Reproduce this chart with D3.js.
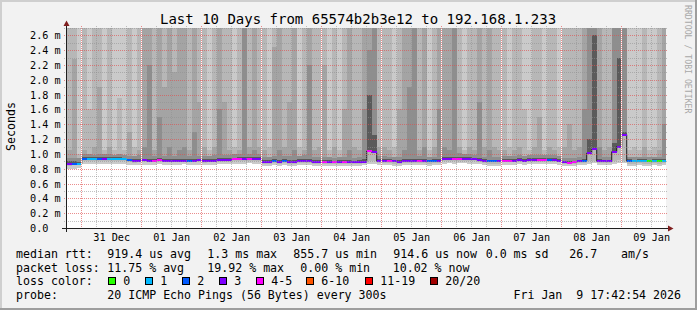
<!doctype html>
<html lang="en">
<head>
<meta charset="UTF-8">
<title>Last 10 Days from 65574b2b3e12 to 192.168.1.233</title>
<style>
body{margin:0;background:#f2f2f2;}
svg text{font-family:"DejaVu Sans Mono",monospace;fill:#000;}
</style>
<script src="https://cdn.jsdelivr.net/npm/d3@7"></script>
</head>
<body>
<script>
// 2 hour bins from Dec 30 18:00 to Jan 9 18:00 (120 bins)
// median rtt in ms
var median = [0.867,0.867,0.866,
 0.935,0.934,0.933,0.935,0.934,0.936,0.935,0.934,0.93,0.912,0.905,0.91,
 0.912,0.91,0.911,0.913,0.91,0.909,0.91,0.911,0.91,0.909,0.91,0.912,
 0.905,0.906,0.91,0.912,0.915,0.92,0.925,0.928,0.927,0.93,0.928,0.93,
 0.895,0.89,0.898,0.893,0.9,0.897,0.895,0.9,0.905,0.898,0.89,0.895,
 0.895,0.89,0.888,0.89,0.892,0.89,0.888,0.89,0.893,1.04,1.02,0.9,
 0.905,0.9,0.898,0.895,0.9,0.902,0.9,0.903,0.9,0.898,0.9,0.902,
 0.93,0.932,0.93,0.935,0.933,0.93,0.928,0.92,0.905,0.9,0.898,0.9,
 0.91,0.908,0.91,0.912,0.91,0.915,0.912,0.914,0.915,0.912,0.915,0.91,
 0.885,0.882,0.885,0.9,0.9,1.01,1.06,0.9,0.9,0.9,1.03,1.1,
 1.26,0.9,0.9,0.902,0.9,0.9,0.9,0.9,0.9];
// lost pings out of 20
var loss = [3,2,1,
 2,1,1,2,3,1,1,1,1,2,3,3,
 3,3,4,4,3,3,3,3,3,2,3,3,
 3,3,3,3,3,3,4,4,3,4,3,3,
 3,3,2,3,2,3,3,3,3,3,3,3,
 4,3,4,3,4,3,3,3,3,4,3,3,
 3,4,3,3,3,3,3,4,3,2,2,3,
 3,3,4,4,3,3,3,3,3,2,2,3,
 4,4,3,3,3,3,3,4,4,2,3,3,
 3,4,4,3,2,3,3,3,3,3,3,3,
 3,2,1,1,1,0,1,0,1];
// smoke: how many outer ping pairs reach above the top of the graph
var level = [2,2,1,
 2,1,2,2,1,2,1,1,1,2,1,2,
 3,3,2,3,2,3,2,3,3,2,3,2,
 2,1,2,3,2,2,1,2,4,2,3,2,
 2,1,2,3,2,2,3,1,2,3,2,2,
 2,1,2,1,2,3,2,2,3,3,4,2,
 2,2,1,2,3,3,4,2,3,1,2,3,
 3,3,4,2,1,2,2,3,2,3,2,2,
 2,1,2,2,1,1,2,2,1,2,2,1,
 2,2,2,2,3,4,4,3,2,2,4,4,
 4,1,1,1,2,1,1,2,3];
// top of the next inner pair (ms)
var bar = [1.05,2.28,1.0,
 1.05,1.6,1.1,1.9,1.05,1.1,1.05,1.75,1.05,1.3,1.1,1.05,
 1.1,2.2,1.05,1.5,1.9,1.1,2.1,1.05,1.1,1.05,1.3,1.7,
 1.1,1.05,1.1,1.6,1.7,1.05,1.1,1.05,1.5,1.1,1.05,1.1,
 1.05,1.1,2.45,1.05,1.1,1.7,1.05,1.1,1.05,2.2,1.05,1.1,
 2.2,1.05,1.1,1.05,1.6,1.05,1.1,1.05,1.6,2.4,2.6,1.1,
 1.1,1.05,1.1,1.6,1.05,1.9,1.1,1.05,1.1,1.05,1.1,1.6,
 1.1,1.05,1.6,1.1,1.05,1.1,1.05,1.7,1.1,1.05,1.1,1.05,
 1.05,1.1,1.05,1.1,1.6,1.05,1.1,1.5,1.05,1.1,1.05,1.1,
 1.1,1.4,1.05,1.1,1.6,1.5,1.5,1.1,1.05,1.1,1.5,1.6,
 1.5,1.05,1.1,1.05,1.1,1.05,1.1,1.05,1.4];
// top of the remaining inner pairs (ms)
var mid = [0.95,0.95,0.94,
 1.0,1.0,0.99,1.0,1.0,1.0,0.99,1.0,0.99,0.97,0.97,0.98,
 0.98,0.99,0.97,0.98,0.97,0.98,0.97,0.98,0.97,0.97,0.98,0.97,
 0.97,0.97,0.98,0.98,0.99,0.99,1.0,1.0,1.0,1.0,1.0,1.0,
 0.96,0.96,0.97,0.96,0.97,0.97,0.96,0.97,0.98,0.97,0.96,0.96,
 0.96,0.96,0.95,0.96,0.96,0.96,0.95,0.96,0.99,1.5,1.3,0.97,
 0.97,0.96,0.96,0.96,0.97,0.97,0.97,0.97,0.96,0.96,0.96,0.97,
 1.0,1.0,1.0,1.01,1.0,1.0,0.99,0.98,0.96,0.96,0.955,0.96,
 0.97,0.97,0.97,0.98,0.97,0.98,0.98,0.98,0.98,0.98,0.98,0.97,
 0.95,0.95,0.95,0.96,0.97,1.3,1.6,0.97,0.96,0.96,1.2,1.5,
 1.3,0.96,0.96,0.965,0.96,0.96,0.96,0.96,0.97];
// top of the darkest core pairs (ms)
var core = [0.9,0.9,0.89,
 0.96,0.96,0.955,0.96,0.96,0.96,0.955,0.96,0.95,0.93,0.93,0.935,
 0.935,0.93,0.935,0.94,0.93,0.93,0.935,0.93,0.93,0.93,0.935,0.935,
 0.93,0.93,0.935,0.94,0.94,0.945,0.95,0.955,0.955,0.955,0.955,0.955,
 0.92,0.915,0.925,0.92,0.925,0.92,0.92,0.925,0.93,0.925,0.915,0.92,
 0.92,0.915,0.91,0.915,0.92,0.915,0.91,0.915,0.93,1.8,1.25,0.93,
 0.93,0.925,0.92,0.92,0.925,0.93,0.925,0.93,0.925,0.92,0.925,0.93,
 0.955,0.96,0.955,0.96,0.96,0.955,0.95,0.945,0.925,0.92,0.915,0.92,
 0.935,0.93,0.935,0.94,0.935,0.94,0.94,0.94,0.94,0.94,0.94,0.935,
 0.91,0.905,0.91,0.92,0.93,1.2,2.6,0.93,0.92,0.92,1.15,2.3,
 1.3,0.925,0.92,0.93,0.925,0.92,0.925,0.925,0.93];
// lowest ping (ms)
var low = [0.79,0.80,0.81,
 0.87,0.87,0.86,0.87,0.865,0.87,0.87,0.86,0.865,0.85,0.845,0.85,
 0.855,0.85,0.855,0.86,0.85,0.855,0.85,0.855,0.86,0.85,0.855,0.85,
 0.85,0.85,0.855,0.86,0.86,0.865,0.87,0.87,0.87,0.875,0.87,0.87,
 0.84,0.84,0.845,0.84,0.845,0.84,0.84,0.845,0.85,0.845,0.84,0.84,
 0.84,0.84,0.835,0.84,0.84,0.84,0.835,0.84,0.845,0.87,0.87,0.85,
 0.85,0.845,0.84,0.84,0.845,0.85,0.845,0.85,0.845,0.84,0.845,0.85,
 0.87,0.875,0.87,0.875,0.875,0.87,0.865,0.86,0.845,0.84,0.84,0.84,
 0.855,0.85,0.855,0.86,0.855,0.86,0.86,0.86,0.86,0.86,0.86,0.855,
 0.84,0.835,0.84,0.85,0.85,0.87,0.88,0.85,0.845,0.85,0.87,0.88,
 0.88,0.84,0.84,0.845,0.84,0.84,0.845,0.84,0.845];
// second lowest pair bottom (ms)
var lowIn = [0.84,0.85,0.85,
 0.9,0.905,0.9,0.9,0.9,0.905,0.9,0.9,0.9,0.885,0.88,0.885,
 0.885,0.885,0.89,0.89,0.885,0.885,0.89,0.885,0.885,0.885,0.89,0.89,
 0.88,0.885,0.885,0.89,0.89,0.895,0.9,0.905,0.9,0.905,0.9,0.905,
 0.87,0.865,0.875,0.87,0.875,0.87,0.87,0.875,0.88,0.875,0.865,0.87,
 0.87,0.865,0.865,0.87,0.87,0.865,0.865,0.87,0.875,0.9,0.9,0.88,
 0.88,0.875,0.87,0.87,0.875,0.88,0.875,0.88,0.875,0.87,0.875,0.88,
 0.905,0.91,0.905,0.91,0.91,0.905,0.9,0.895,0.875,0.87,0.865,0.87,
 0.885,0.885,0.885,0.89,0.885,0.89,0.89,0.89,0.89,0.89,0.89,0.885,
 0.865,0.86,0.865,0.875,0.88,0.9,0.91,0.88,0.875,0.875,0.9,0.92,
 0.91,0.87,0.87,0.875,0.87,0.87,0.875,0.87,0.875];

var lossLabels = ['0','1','2','3','4-5','6-10','11-19','20/20'];
var lossLimits = [0,1,2,3,5,10,19,20];
var lossColors = ['#26ff00','#00b8ff','#0059ff','#7e00ff','#ff00ff','#ff5500','#ff0000','#a00000'];
var yTicks = [0.2,0.4,0.6,0.8,1.0,1.2,1.4,1.6,1.8,2.0,2.2,2.4,2.6];

var W = 697, H = 310;
var x0 = 66, x1 = 666, yTop = 28, yBot = 228;
var tStart = new Date(2025, 11, 30, 17, 42, 54);
var tEnd = new Date(2026, 0, 9, 17, 42, 54);
var binStart = new Date(2025, 11, 30, 18, 0, 0);

var x = d3.scaleTime().domain([tStart, tEnd]).range([x0, x1]);
var y = d3.scaleLinear().domain([0, 2.7]).range([yBot, yTop]).clamp(true);

var svg = d3.select('body').append('svg')
	.attr('width', W).attr('height', H)
	.style('display', 'block');

// frame
svg.append('rect').attr('width', W).attr('height', H).attr('fill', '#f2f2f2');
svg.append('rect').attr('x', 0).attr('y', 0).attr('width', W).attr('height', 2).attr('fill', '#cfcfcf');
svg.append('rect').attr('x', 0).attr('y', 0).attr('width', 2).attr('height', H).attr('fill', '#cfcfcf');
svg.append('rect').attr('x', 0).attr('y', H - 2).attr('width', W).attr('height', 2).attr('fill', '#9e9e9e');
svg.append('rect').attr('x', W - 2).attr('y', 0).attr('width', 2).attr('height', H).attr('fill', '#9e9e9e');

// canvas
svg.append('rect').attr('x', x0).attr('y', yTop).attr('width', x1 - x0).attr('height', yBot - yTop).attr('fill', '#fff');

var bins = median.map(function(m, i){
	var a = d3.timeHour.offset(binStart, 2*i);
	var b = d3.timeHour.offset(binStart, 2*i + 2);
	return {i: i, a: a, b: b, xa: Math.max(x0, x(a)), xb: Math.min(x1, x(b))};
});

var smokeShades = ['#cacaca','#b7b7b7','#a4a4a4','#8e8e8e'];
var coreShade = '#5a5a5a';
var TOP = 2.7;

var smoke = svg.append('g').attr('shape-rendering', 'crispEdges');
function band(d, lo, hi, col){
	if(hi <= lo) return;
	smoke.append('rect')
		.attr('x', d.xa).attr('width', d.xb - d.xa)
		.attr('y', y(hi)).attr('height', y(lo) - y(hi))
		.attr('fill', col);
}
bins.forEach(function(d){
	var i = d.i;
	band(d, low[i], TOP, smokeShades[0]);
	for(var k = 2; k <= 4; k++){
		var top = k <= level[i] ? TOP : (k == level[i] + 1 ? bar[i] : mid[i]);
		var bottom = k == 2 ? lowIn[i] : median[i];
		band(d, bottom, top, smokeShades[k-1]);
	}
	band(d, median[i], core[i], coreShade);
});

// median line
var pts = [];
bins.forEach(function(d){ pts.push([d.xa, y(median[d.i])]); });
pts.push([bins[bins.length-1].xb, y(median[median.length-1])]);
svg.append('path')
	.attr('d', d3.line().curve(d3.curveStepAfter)(pts))
	.attr('fill', 'none').attr('stroke', '#202020').attr('stroke-width', 1);

function lossColor(n){
	for(var k = 0; k < lossLimits.length; k++){
		if(n <= lossLimits[k]) return lossColors[k];
	}
	return lossColors[lossColors.length-1];
}
svg.append('g').attr('shape-rendering', 'crispEdges')
	.selectAll('rect').data(bins).enter().append('rect')
	.attr('x', function(d){ return d.xa; })
	.attr('width', function(d){ return d.xb - d.xa; })
	.attr('y', function(d){ return y(median[d.i]) - 1; })
	.attr('height', 2)
	.attr('fill', function(d){ return lossColor(loss[d.i]); });

// gaps at midnight
var days = d3.timeDay.range(tStart, tEnd);
svg.append('g').selectAll('rect').data(days).enter().append('rect')
	.attr('x', function(d){ return Math.floor(x(d)); })
	.attr('y', yTop).attr('width', 1).attr('height', yBot - yTop)
	.attr('fill', '#fff');

// grid
var grid = svg.append('g');
var hAll = d3.range(1, 28).map(function(k){ return k/10; });
hAll.forEach(function(v, k){
	var major = (k + 1) % 2 == 0;
	var yy = Math.round(y(v)) + 0.5;
	grid.append('line')
		.attr('x1', x0 - 2).attr('x2', x1 + 2)
		.attr('y1', yy).attr('y2', yy)
		.attr('stroke', major ? '#de5050' : '#8f8f8f')
		.attr('stroke-opacity', major ? 0.65 : 0.55)
		.attr('stroke-dasharray', '1,1');
});
var sixH = d3.timeHour.every(6).range(tStart, tEnd);
sixH.forEach(function(t){
	var major = t.getHours() == 0;
	var xx = Math.floor(x(t)) + 0.5;
	grid.append('line')
		.attr('x1', xx).attr('x2', xx)
		.attr('y1', yTop - 2).attr('y2', yBot + 2)
		.attr('stroke', major ? '#de5050' : '#8f8f8f')
		.attr('stroke-opacity', major ? 0.65 : 0.55)
		.attr('stroke-dasharray', '1,1');
});

// axes
svg.append('line').attr('x1', x0 - 4).attr('x2', x1 + 4)
	.attr('y1', yBot + 0.5).attr('y2', yBot + 0.5).attr('stroke', '#1f1f1f');
svg.append('line').attr('x1', x0 + 0.5).attr('x2', x0 + 0.5)
	.attr('y1', yBot + 4).attr('y2', yTop - 4).attr('stroke', '#1f1f1f');
svg.append('path').attr('d', 'M' + (x1 + 2) + ',' + (yBot - 2.5) + 'L' + (x1 + 7.5) + ',' + (yBot + 0.5) + 'L' + (x1 + 2) + ',' + (yBot + 3.5) + 'Z')
	.attr('fill', '#801f1f');
svg.append('path').attr('d', 'M' + (x0 - 2.5) + ',' + (yTop - 2) + 'L' + (x0 + 0.5) + ',' + (yTop - 7.5) + 'L' + (x0 + 3.5) + ',' + (yTop - 2) + 'Z')
	.attr('fill', '#801f1f');

// y labels
svg.append('g').selectAll('text').data([0].concat(yTicks)).enter().append('text')
	.attr('x', 30)
	.attr('y', function(d){ return Math.round(y(d)) + 4; })
	.style('font-size', '10.2px')
	.text(function(d){ return d == 0 ? '0.0' : d3.format('.1f')(d) + ' m'; });

// x labels at noon
svg.append('g').selectAll('text').data(days.filter(function(d){
		return d3.timeHour.offset(d, 12) < tEnd;
	})).enter().append('text')
	.attr('x', function(d){ return x(d3.timeHour.offset(d, 12)); })
	.attr('y', 240.5)
	.attr('text-anchor', 'middle')
	.style('font-size', '10.2px')
	.text(function(d){ return d3.timeFormat('%d %b')(d); });

// title and side texts
svg.append('text').attr('x', 160).attr('y', 24).style('font-size', '14px')
	.text('Last 10 Days from 65574b2b3e12 to 192.168.1.233');
svg.append('text').attr('transform', 'translate(15,126.5) rotate(-90)')
	.attr('text-anchor', 'middle').style('font-size', '11.6px').text('Seconds');
svg.append('text').attr('transform', 'translate(685,5) rotate(90)')
	.style('font-size', '8.2px').style('fill', '#a8a8a8')
	.text('RRDTOOL / TOBI OETIKER');

// legend
var fs = '11.6px';
function leg(xx, yy, s){
	svg.append('text').attr('x', xx).attr('y', yy).style('font-size', fs)
		.style('white-space', 'pre').text(s);
}
leg(16, 258, 'median rtt:');
leg(107.3, 258, '919.4 us avg');
leg(207.3, 258, '1.3 ms max');
leg(293.3, 258, '855.7 us min');
leg(393.3, 258, '914.6 us now');
leg(485.7, 258, '0.0 ms sd');
leg(569.3, 258, '26.7');
leg(621, 258, 'am/s');
leg(16, 271.5, 'packet loss:');
leg(107.3, 271.5, '11.75 % avg');
leg(207.3, 271.5, '19.92 % max');
leg(300.3, 271.5, '0.00 % min');
leg(392.7, 271.5, '10.02 % now');
leg(16, 285, 'loss color:');
var boxX = [108.5, 145.5, 182.5, 219.5, 256.5, 306.5, 365.5, 430.5];
lossLabels.forEach(function(l, k){
	svg.append('rect').attr('x', boxX[k]).attr('y', 277.5).attr('width', 7).attr('height', 7)
		.attr('fill', lossColors[k]).attr('stroke', '#000');
	leg(boxX[k] + 14.8, 285, l);
});
leg(16, 299, 'probe:');
leg(107.3, 299, '20 ICMP Echo Pings (56 Bytes) every 300s');
svg.append('text').attr('x', 681).attr('y', 299).attr('text-anchor', 'end')
	.style('font-size', fs).style('white-space', 'pre').text('Fri Jan  9 17:42:54 2026');
</script>
</body>
</html>
